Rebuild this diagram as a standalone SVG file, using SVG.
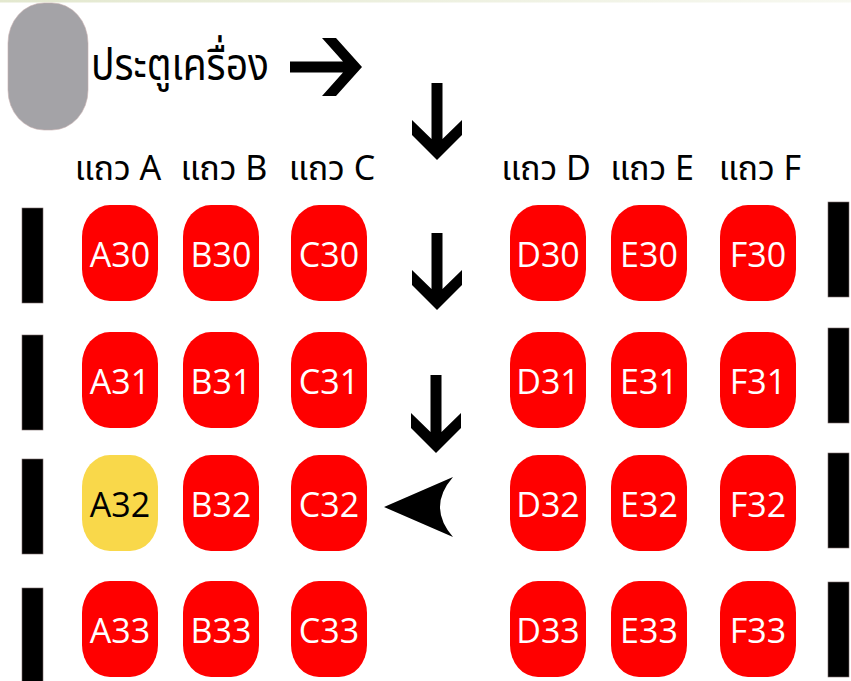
<svg xmlns="http://www.w3.org/2000/svg" width="851" height="681" viewBox="0 0 851 681">
  <defs>
    <linearGradient id="topg" x1="0" y1="0" x2="1" y2="0">
      <stop offset="0" stop-color="#e3e8cf"/>
      <stop offset="1" stop-color="#f7f8f0"/>
    </linearGradient>
    <style>
      .seat { fill: #ff0000; }
      .seat-sel { fill: #f9d84a; }
      .st { font-family: "Open Sans", "Noto Sans", sans-serif; font-size: 34px; fill: #ffffff; text-anchor: middle; }
      .st-sel { fill: #000000; }
      .lbl { font-family: "Noto Sans", "Noto Sans Thai", "DejaVu Sans", sans-serif; font-size: 34px; fill: #000000; text-anchor: middle; }
      .bar { fill: #000000; stroke: #7a6a6a; stroke-width: 0.6; }
      .arrow { fill: #000000; }
    </style>
  </defs>
  <rect x="0" y="0" width="851" height="681" fill="#ffffff"/>
  <rect x="0" y="0" width="851" height="2.5" fill="url(#topg)"/>

  <g id="door">
    <rect x="8" y="3" width="80" height="127" rx="36" ry="40" fill="#a4a3a7" stroke="#c8b0b0" stroke-width="0.6"/>
    <text transform="translate(91,80) scale(1,1.14)" x="0" y="0" font-family="Noto Sans, Noto Sans Thai, sans-serif" font-size="39" fill="#000000">ประตูเครื่อง</text>
  </g>

  <g id="column-labels">
    <text class="lbl" x="118" y="180">แถว A</text>
    <text class="lbl" x="224" y="180">แถว B</text>
    <text class="lbl" x="332" y="180">แถว C</text>
    <text class="lbl" x="546" y="180">แถว D</text>
    <text class="lbl" x="652" y="180">แถว E</text>
    <text class="lbl" x="760" y="180">แถว F</text>
  </g>

  <g id="windows">
    <rect class="bar" x="22" y="208" width="21" height="95"/>
    <rect class="bar" x="22" y="335" width="21" height="95"/>
    <rect class="bar" x="22" y="459" width="21" height="95"/>
    <rect class="bar" x="22" y="588" width="21" height="95"/>
    <rect class="bar" x="828" y="202" width="21" height="95"/>
    <rect class="bar" x="828" y="328" width="21" height="95"/>
    <rect class="bar" x="828" y="453" width="21" height="95"/>
    <rect class="bar" x="828" y="582" width="21" height="95"/>
  </g>

  <g id="row30">
    <g id="A30"><rect class="seat" x="82" y="205" width="76" height="96" rx="28" ry="32"/><text class="st" x="120" y="267">A30</text></g>
    <g id="B30"><rect class="seat" x="183" y="205" width="76" height="96" rx="28" ry="32"/><text class="st" x="221" y="267">B30</text></g>
    <g id="C30"><rect class="seat" x="291" y="205" width="76" height="96" rx="28" ry="32"/><text class="st" x="329" y="267">C30</text></g>
    <g id="D30"><rect class="seat" x="510" y="205" width="76" height="96" rx="28" ry="32"/><text class="st" x="548" y="267">D30</text></g>
    <g id="E30"><rect class="seat" x="611" y="205" width="76" height="96" rx="28" ry="32"/><text class="st" x="649" y="267">E30</text></g>
    <g id="F30"><rect class="seat" x="720" y="205" width="76" height="96" rx="28" ry="32"/><text class="st" x="758" y="267">F30</text></g>
  </g>

  <g id="row31">
    <g id="A31"><rect class="seat" x="82" y="332" width="76" height="96" rx="28" ry="32"/><text class="st" x="120" y="394">A31</text></g>
    <g id="B31"><rect class="seat" x="183" y="332" width="76" height="96" rx="28" ry="32"/><text class="st" x="221" y="394">B31</text></g>
    <g id="C31"><rect class="seat" x="291" y="332" width="76" height="96" rx="28" ry="32"/><text class="st" x="329" y="394">C31</text></g>
    <g id="D31"><rect class="seat" x="510" y="332" width="76" height="96" rx="28" ry="32"/><text class="st" x="548" y="394">D31</text></g>
    <g id="E31"><rect class="seat" x="611" y="332" width="76" height="96" rx="28" ry="32"/><text class="st" x="649" y="394">E31</text></g>
    <g id="F31"><rect class="seat" x="720" y="332" width="76" height="96" rx="28" ry="32"/><text class="st" x="758" y="394">F31</text></g>
  </g>

  <g id="row32">
    <g id="A32"><rect class="seat-sel" x="82" y="455" width="76" height="96" rx="28" ry="32"/><text class="st st-sel" x="120" y="517">A32</text></g>
    <g id="B32"><rect class="seat" x="183" y="455" width="76" height="96" rx="28" ry="32"/><text class="st" x="221" y="517">B32</text></g>
    <g id="C32"><rect class="seat" x="291" y="455" width="76" height="96" rx="28" ry="32"/><text class="st" x="329" y="517">C32</text></g>
    <g id="D32"><rect class="seat" x="510" y="455" width="76" height="96" rx="28" ry="32"/><text class="st" x="548" y="517">D32</text></g>
    <g id="E32"><rect class="seat" x="611" y="455" width="76" height="96" rx="28" ry="32"/><text class="st" x="649" y="517">E32</text></g>
    <g id="F32"><rect class="seat" x="720" y="455" width="76" height="96" rx="28" ry="32"/><text class="st" x="758" y="517">F32</text></g>
  </g>

  <g id="row33">
    <g id="A33"><rect class="seat" x="82" y="581" width="76" height="96" rx="28" ry="32"/><text class="st" x="120" y="643">A33</text></g>
    <g id="B33"><rect class="seat" x="183" y="581" width="76" height="96" rx="28" ry="32"/><text class="st" x="221" y="643">B33</text></g>
    <g id="C33"><rect class="seat" x="291" y="581" width="76" height="96" rx="28" ry="32"/><text class="st" x="329" y="643">C33</text></g>
    <g id="D33"><rect class="seat" x="510" y="581" width="76" height="96" rx="28" ry="32"/><text class="st" x="548" y="643">D33</text></g>
    <g id="E33"><rect class="seat" x="611" y="581" width="76" height="96" rx="28" ry="32"/><text class="st" x="649" y="643">E33</text></g>
    <g id="F33"><rect class="seat" x="720" y="581" width="76" height="96" rx="28" ry="32"/><text class="st" x="758" y="643">F33</text></g>
  </g>

  <g id="connectors">
    <polygon class="arrow" points="290,61.5 343,61.5 322,38 336,38 362,67 336,96 322,96 343,72.5 290,72.5"/>
    <polygon class="arrow" points="431.5,83 442.5,83 442.5,139 462,120 462,135 437,160 412,135 412,120 431.5,139"/>
    <polygon class="arrow" points="431.5,233 442.5,233 442.5,289 462,270 462,285 437,310 412,285 412,270 431.5,289"/>
    <polygon class="arrow" points="430.5,375 441.5,375 441.5,432 461,413 461,428 436,453 411,428 411,413 430.5,432"/>
    <path class="arrow" d="M384,507 L453,477 Q427,507 453,537 Z"/>
  </g>
</svg>
